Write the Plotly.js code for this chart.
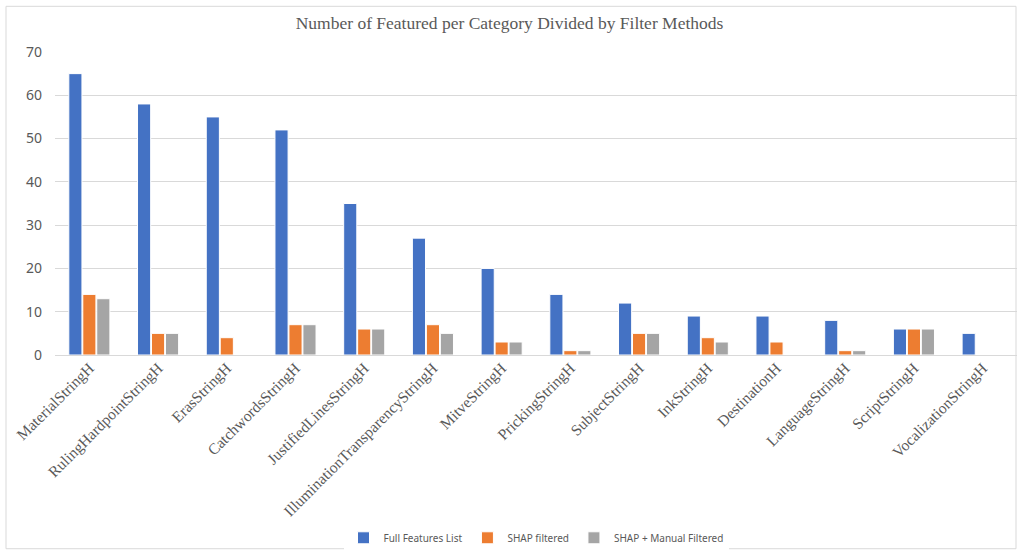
<!DOCTYPE html>
<html><head><meta charset="utf-8">
<script src="https://cdn.plot.ly/plotly-3.0.1.min.js"></script>
<style>html,body{margin:0;padding:0;background:#fff;}#chart{width:1019px;height:554px;}</style>
</head><body><div id="chart"></div>
<script>
const categories = ["MaterialStringH","RulingHardpointStringH","ErasStringH","CatchwordsStringH","JustifiedLinesStringH","IlluminationTransparencyStringH","MitveStringH","PrickingStringH","SubjectStringH","InkStringH","DestinationH","LanguageStringH","ScriptStringH","VocalizationStringH"];
const fullFeatures = [65,58,55,52,35,27,20,14,12,9,9,8,6,5];
const shapFiltered = [14,5,4,7,6,7,3,1,5,4,3,1,6,null];
const shapManual = [13,5,null,7,6,5,3,1,5,3,null,1,6,null];
const seriesNames = ["Full Features List","SHAP filtered","SHAP + Manual Filtered"];
const colors = ["#4472C4","#ED7D31","#A5A5A5"];
const yTicks = [0,10,20,30,40,50,60,70];

const seriesValues = [fullFeatures, shapFiltered, shapManual];
const traces = seriesValues.map((v,i)=>({
  type:'bar', name:seriesNames[i], x:categories, y:v,
  marker:{color:colors[i], line:{color:'#ffffff', width:1}},
  hoverinfo:'x+y+name'
}));

const L=55, R=1017, T=52, B=357;
const W=R-L, H=B-T;
const layout = {
  width:1019, height:554,
  margin:{l:L, r:1019-R, t:T, b:554-B},
  paper_bgcolor:'#ffffff', plot_bgcolor:'#ffffff',
  title:{text:'Number of Featured per Category Divided by Filter Methods', font:{family:'Liberation Serif, Times New Roman, serif', size:17.5, color:'#595959'}, x:0.5, xanchor:'center', y:1-23/554, yanchor:'middle'},
  barmode:'group', bargap:0.39, bargroupgap:0.06,
  xaxis:{type:'category', tickangle:-45, tickfont:{family:'Liberation Serif, Times New Roman, serif', size:15.5, color:'#595959'}, showgrid:false, showline:false, ticks:'', zeroline:false},
  yaxis:{range:[0,70], tickvals:yTicks, tickfont:{family:'Noto Sans, Open Sans, sans-serif', size:14, color:'#595959'}, gridcolor:'#D9D9D9', gridwidth:1, zeroline:true, zerolinecolor:'#D9D9D9', zerolinewidth:1, showline:false, ticks:'', ticklabelstandoff:12},
  showlegend:true,
  legend:{orientation:'h', x:0.5, xanchor:'center', y:(B-541)/H, yanchor:'middle', font:{family:'Noto Sans, Open Sans, sans-serif', size:10, color:'#595959'}, itemwidth:30, tracegroupgap:0},
  shapes:[{type:'rect', xref:'paper', yref:'paper', x0:(6-L)/W, x1:(1016-L)/W, y0:(B-552)/H, y1:(B-6)/H, line:{color:'#D9D9D9', width:1}, fillcolor:'rgba(0,0,0,0)', layer:'below'}]
};
Plotly.newPlot('chart', traces, layout, {displayModeBar:false, staticPlot:true});
</script>
</body></html>
